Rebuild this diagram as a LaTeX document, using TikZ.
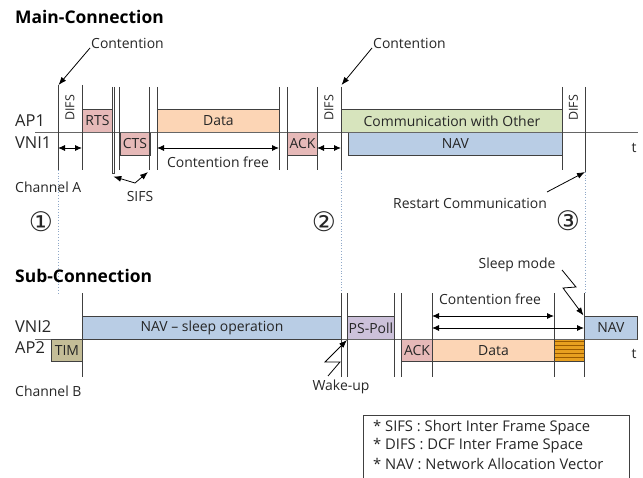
\documentclass[tikz,border=0pt]{standalone}
\usepackage{fontspec}
\setmainfont{Open Sans}
\newfontfamily\circfont{DejaVu Sans}
\usetikzlibrary{arrows.meta}

\definecolor{ctlfill}{HTML}{E6B9B8}
\definecolor{datafill}{HTML}{FCD5B5}
\definecolor{otherfill}{HTML}{D7E4BD}
\definecolor{navfill}{HTML}{B9CDE5}
\definecolor{pollfill}{HTML}{CCC1DA}
\definecolor{timfill}{HTML}{C4BD97}
\definecolor{stripeA}{HTML}{E8A020}
\definecolor{stripeB}{HTML}{9A5A00}
\definecolor{edge}{HTML}{404040}
\definecolor{guide}{HTML}{8FA8C8}
\definecolor{txt}{HTML}{262626}

\tikzset{
  frame/.style={draw=edge, line width=0.9bp, inner sep=0pt, anchor=north west,
                font=\fontsize{14}{16}\selectfont, text=txt},
  tick/.style={draw=edge, line width=0.9bp},
  axis/.style={draw=edge!80, line width=0.9bp},
  span/.style={draw=black, line width=0.9bp, {Latex[length=7bp,width=6bp]}-{Latex[length=7bp,width=6bp]}},
  pointer/.style={draw=black, line width=0.8bp, -{Latex[length=8bp,width=6bp]}},
  guideline/.style={draw=guide, line width=0.8bp, dotted},
  lbl/.style={inner sep=0pt, font=\fontsize{14}{16}\selectfont, text=txt},
  rowlbl/.style={inner sep=0pt, anchor=west, font=\fontsize{16.5}{18}\selectfont, text=txt},
  title/.style={inner sep=0pt, anchor=west, font=\fontsize{17.5}{20}\bfseries\selectfont},
  ifs/.style={inner sep=0pt, rotate=90, font=\fontsize{12.5}{14}\selectfont, text=txt},
  circnum/.style={inner sep=0pt, font=\circfont\fontsize{27}{29}\selectfont, text=txt},
  legend/.style={inner sep=0pt, anchor=west, font=\fontsize{14.8}{17}\selectfont, text=txt},
}

\begin{document}
\begin{tikzpicture}[x=1bp, y=-1bp]
\useasboundingbox (0,0) rectangle (643,478);

% ---------------- Main connection ----------------
\node[title] (tmain) at (15,17) {Main-Connection};
\node[rowlbl] (ap1) at (15,121) {AP1};
\node[rowlbl] (vni1) at (15,143) {VNI1};
\node[lbl, anchor=west] (cha) at (15,187) {Channel A};
\node[lbl] (t1) at (634,148) {t};

% frames on the main channel
\node[frame, fill=ctlfill, minimum width=30bp, minimum height=23bp] (rts) at (82,109) {RTS};
\node[frame, fill=ctlfill, minimum width=30bp, minimum height=23bp] (cts) at (119.5,132) {CTS};
\node[frame, fill=datafill, minimum width=122bp, minimum height=23bp] (data1) at (157,109) {Data};
\node[frame, fill=ctlfill, minimum width=30bp, minimum height=23bp] (ack1) at (287,132) {ACK};
\node[frame, fill=otherfill, minimum width=221bp, minimum height=23bp] (other) at (341,109) {Communication with Other};
\node[frame, fill=navfill, minimum width=214bp, minimum height=23bp] (nav1) at (348,132) {NAV};

\draw[axis] (35,132) -- (638,132);

% slot boundaries
\foreach \x in {58,82} \draw[tick] (\x,85) -- (\x,170);
\foreach \x in {112,114.5,119.5,149.5,157,279,287,317,341,562} \draw[tick] (\x,87) -- (\x,170);
\draw[tick] (585,87) -- (585,172);
\draw[tick] (112,170) -- (112,173) -- (114.5,173) -- (114.5,170);

% interframe spaces
\node[ifs] (difs1) at (70,108) {DIFS};
\node[ifs] (difs2) at (329,108) {DIFS};
\node[ifs] (difs3) at (573.5,108) {DIFS};
\coordinate (d1a) at (58,148); \coordinate (d1b) at (82,148);
\coordinate (d2a) at (317,148); \coordinate (d2b) at (341,148);
\draw[span] (d1a) -- (d1b);
\draw[span] (d2a) -- (d2b);
\coordinate (cf1a) at (157,148); \coordinate (cf1b) at (279,148);
\draw[span] (cf1a) -- (cf1b);
\node[lbl] (cf1) at (218,162) {Contention free};

% SIFS marker
\node[lbl] (sifs) at (140,197) {SIFS};
\coordinate (sv) at (135,183);
\coordinate (sl) at (113.3,176.5);
\coordinate (sr) at (148,172);
\draw[pointer] (sv) -- (sl);
\draw[pointer] (sv) -- (sr);

% contention callouts
\node[lbl, anchor=west] (cont1) at (91,43) {Contention};
\node[lbl, anchor=west] (cont2) at (373,43) {Contention};
\coordinate (c1s) at (90,48); \coordinate (c1e) at (58.5,85);
\coordinate (c2s) at (372,48); \coordinate (c2e) at (341.5,85);
\draw[pointer] (c1s) -- (c1e);
\draw[pointer] (c2s) -- (c2e);

\node[lbl] (restart) at (470,203) {Restart Communication};
\coordinate (rs) at (547,192); \coordinate (re) at (585,172);
\draw[pointer] (rs) -- (re);

% phase markers
\node[circnum] (p1) at (41,222) {①};
\node[circnum] (p2) at (324,222) {②};
\node[circnum] (p3) at (568,221) {③};
\draw[guideline] (58,170) -- (58,293);
\draw[guideline] (341,170) -- (341,293);
\draw[guideline] (585,172) -- (585,293);

% ---------------- Sub connection ----------------
\node[title] (tsub) at (15,276) {Sub-Connection};
\node[rowlbl] (vni2) at (15,327) {VNI2};
\node[rowlbl] (ap2) at (15,348) {AP2};
\node[lbl, anchor=west] (chb) at (15,391) {Channel B};
\node[lbl] (t2) at (634,354) {t};

\draw[axis] (35,339) -- (82,339);

\node[frame, fill=timfill, minimum width=31bp, minimum height=22bp] (tim) at (51,339) {TIM};
\node[frame, fill=navfill, minimum width=259bp, minimum height=23bp] (navsleep) at (82,316) {NAV -- sleep operation};
\node[frame, fill=pollfill, minimum width=47bp, minimum height=23bp] (poll) at (347,316) {PS-Poll};
\node[frame, fill=ctlfill, minimum width=31bp, minimum height=22bp] (ack2) at (401,339) {ACK};
\node[frame, fill=datafill, minimum width=122bp, minimum height=22bp] (data2) at (432,339) {Data};
\node[frame, fill=navfill, minimum width=53bp, minimum height=23bp] (nav2) at (584,316) {NAV};

% trailing part of the data frame
\fill[stripeA] (554,339) rectangle (584,361);
\foreach \y in {341.5,345.5,349.5,353.5,357.5}
  \draw[stripeB, line width=1.6bp] (554,\y) -- (584,\y);
\draw[draw=edge, line width=0.9bp] (554,339) rectangle (584,361);

\draw[axis] (341,339) -- (637,339);

\foreach \x in {82,341,347,394,401,432,554,584} \draw[tick] (\x,293) -- (\x,377);

\node[lbl] (cf2) at (490,299) {Contention free};
\coordinate (cf2a) at (432,316); \coordinate (cf2b) at (554,316);
\coordinate (cf3a) at (432,328); \coordinate (cf3b) at (584,328);
\draw[span] (cf2a) -- (cf2b);
\draw[span] (cf3a) -- (cf3b);

% sleep / wake-up callouts
\node[lbl] (sleep) at (517,265) {Sleep mode};
\coordinate (sl1) at (562,270); \coordinate (sl2) at (576,287);
\coordinate (sl3) at (563,288); \coordinate (sl4) at (583.5,315.5);
\draw[pointer] (sl1) -- (sl2) -- (sl3) -- (sl4);

\node[lbl] (wake) at (341,387) {Wake-up};
\coordinate (wk1) at (328,376); \coordinate (wk2) at (340,362);
\coordinate (wk3) at (325,362); \coordinate (wk4) at (347,340);
\draw[pointer] (wk1) -- (wk2) -- (wk3) -- (wk4);

% ---------------- Legend ----------------
\draw[draw=edge, line width=0.9bp] (363,480) -- (363,415) -- (629,415) -- (629,480);
\node[legend] (lg1) at (373,428) {* SIFS : Short Inter Frame Space};
\node[legend] (lg2) at (373,446) {* DIFS : DCF Inter Frame Space};
\node[legend] (lg3) at (373,464) {* NAV : Network Allocation Vector};
\end{tikzpicture}
\end{document}
